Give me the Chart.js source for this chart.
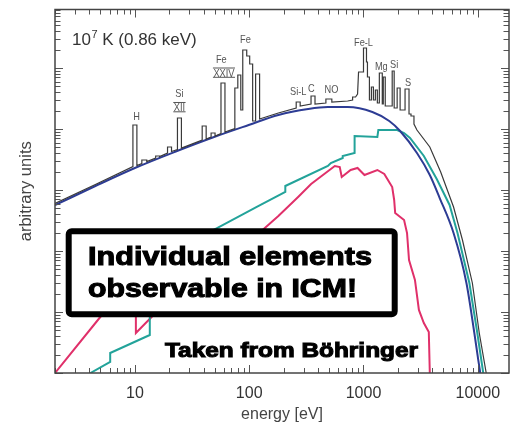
<!DOCTYPE html>
<html><head><meta charset="utf-8">
<script src="https://cdn.jsdelivr.net/npm/chart.js@4"></script>
<style>html,body{margin:0;padding:0;background:#fff;}canvas{display:block;}</style>
</head><body>
<canvas id="c" width="520" height="428"></canvas>
<script>
// ---- data (energy in eV, flux in arbitrary units) ----
const xTickLabels = ['10', '100', '1000', '10000'];
const xRange = [2, 18750];
const yRange = [1, 910000];

// total spectrum (continuum + emission lines), black
const totalE = [2.00,4.51,9.61,9.61,10.41,10.41,11.50,11.50,12.70,12.70,15.20,15.20,16.46,16.46,19.30,19.30,20.91,20.91,23.57,23.57,25.53,25.53,38.79,38.79,42.02,42.02,46.42,46.42,50.27,50.27,56.65,56.65,61.37,61.37,74.90,74.90,79.51,79.51,84.41,84.41,87.84,87.84,95.15,95.15,101.0,101.0,107.2,107.2,113.8,113.8,123.3,123.3,180.0,257.8,257.8,279.3,279.3,347.6,347.6,376.5,376.5,468.8,468.8,528.4,528.4,726.9,803.0,803.0,852.5,887.4,905.2,1000,1000,1062,1062,1083,1083,1127,1127,1173,1173,1221,1221,1270,1270,1322,1322,1376,1376,1460,1460,1490,1490,1550,1550,1783,1783,1855,1855,1970,1970,2091,2091,2310,2310,2502,2502,2604,2604,2764,2764,2935,3803,4735,6137,7341,8962,10300,11850];
const totalY = [601,1231,2428,11630,11630,2521,2718,3102,3102,2932,3346,3609,3609,3541,4042,5069,5069,4277,4611,15150,15150,4881,6603,11200,11200,6856,7393,8599,8599,7677,8437,56770,56770,8930,10190,47000,47000,76770,76770,20480,20480,197300,197300,157300,157300,116300,116300,13520,13520,79720,79720,14580,18290,22100,27700,27700,23820,25690,34750,34750,25690,26680,31020,31020,27700,28770,29880,33460,33460,37480,85990,85990,212800,212800,125400,125400,71200,71200,29880,29880,48810,48810,29880,29880,43580,43580,26680,26680,82790,82790,25690,25690,71200,71200,23820,23820,89300,89300,22100,22100,47000,47000,20480,20480,45250,45250,17620,17620,16330,16330,12080,9629,5069,1973,526,151.5,29.9,4.53,1];

// bremsstrahlung continuum, dark blue
const bremsE = [2.0,4.51,10,22.2,49.3,99,180,328,488,727,1196,1680,2091,2935,3803,4642,6137,7953,9327,10100,10510];
const bremsY = [565,1163,2295,4198,7393,11630,16960,21280,22950,22950,19000,13520,9273,4042,1762,739,197,29.9,4.53,1.63,1];

// recombination continuum, teal
const recombE = [4.08,6.08,6.08,13.5,13.5,52.3,121,207,207,488,518,658,658,836,836,1322,1349,1970,2265,2552,3373,4372,5665,6646,8441,9902,11160];
const recombY = [1,1.52,2.13,4.20,66.0,238,547,927,1163,2474,2771,3346,3609,4042,7677,7393,9629,9629,8590,7120,3609,1515,568,197,29.9,4.53,1];

// two-photon continuum, red
const twoPhotonE = [2.0,4.98,10.2,10.2,14.0,134,180,268,348,561,620,645,772,887,1020,1322,1520,1783,1855,1893,2265,2404,2502,2819,3053,3373,3727,3803];
const twoPhotonY = [1,8.28,42.0,4.53,8.28,230,375,768,1254,2474,2382,1633,2128,2295,1762,2128,1829,1120,686,420,322,197,71.2,33.5,10.8,6.60,4.70,1];

// emission line labels: text, energy, value at label baseline
const lineLabelText = ['H','Si','Fe','Fe','Si-L','C','NO','Fe-L','Mg','Si','S'];
const lineLabelE    = [10.34,24.53,57.0,92.7,268.3,349.7,525.2,1000,1432,1855,2453];
const lineLabelY    = [14050,33840,119400,254000,36090,40880,39370,232100,92730,100000,50690];
const ionText = ['XII','XXIV'];
const ionE    = [24.53,60.15];
const ionY    = [19730,72550];

const pts = (E, Y) => E.map((e, i) => ({x: e, y: Y[i]}));

const FONT = '"Liberation Sans", Arial, sans-serif';

function fitBold(ctx, text, x, base, width, size) {
  ctx.font = `bold ${size}px ${FONT}`;
  const w = ctx.measureText(text).width;
  ctx.save();
  ctx.translate(x, base);
  ctx.scale(width / w, 1);
  ctx.fillStyle = '#000'; ctx.strokeStyle = '#000';
  ctx.lineWidth = 1.1; ctx.lineJoin = 'miter';
  ctx.strokeText(text, 0, 0);
  ctx.fillText(text, 0, 0);
  ctx.restore();
}

function narrowText(ctx, text, cx, base) {
  ctx.save();
  ctx.translate(cx, base);
  ctx.scale(0.84, 1);
  ctx.fillText(text, 0, 0);
  ctx.restore();
  return ctx.measureText(text).width * 0.84;
}

const decor = {
  id: 'decor',
  afterDatasetsDraw(chart) {
    const {ctx, chartArea: a, scales: {x, y}} = chart;
    ctx.save();
    // inward ticks on all four sides
    ctx.strokeStyle = '#555'; ctx.lineWidth = 1;
    ctx.beginPath();
    for (let k = 0; k <= 5; k++) for (let m = 1; m <= 9; m++) {
      const v = m * Math.pow(10, k);
      if (v < x.min || v > x.max) continue;
      const p = Math.round(x.getPixelForValue(v)) + 0.5, L = m === 1 ? 8 : 5;
      ctx.moveTo(p, a.bottom); ctx.lineTo(p, a.bottom - L);
      ctx.moveTo(p, a.top); ctx.lineTo(p, a.top + L);
    }
    for (let k = 0; k <= 6; k++) for (let m = 1; m <= 9; m++) {
      const v = m * Math.pow(10, k);
      if (v < y.min || v > y.max) continue;
      const p = Math.round(y.getPixelForValue(v)) + 0.5, L = m === 1 ? 8 : 5.5;
      ctx.moveTo(a.left, p); ctx.lineTo(a.left + L, p);
      ctx.moveTo(a.right, p); ctx.lineTo(a.right - L, p);
    }
    ctx.stroke();
    // frame
    ctx.strokeStyle = '#444'; ctx.lineWidth = 1.5;
    ctx.strokeRect(a.left, a.top, a.right - a.left, a.bottom - a.top);

    // temperature label
    ctx.fillStyle = '#333'; ctx.textAlign = 'left'; ctx.textBaseline = 'alphabetic';
    ctx.font = `17px ${FONT}`;
    let tx = a.left + 17, ty = a.top + 35;
    ctx.fillText('10', tx, ty); tx += ctx.measureText('10').width + 0.5;
    ctx.font = `11px ${FONT}`;
    ctx.fillText('7', tx, ty - 7); tx += ctx.measureText('7').width;
    ctx.font = `17px ${FONT}`;
    ctx.fillText(' K (0.86 keV)', tx, ty);

    // emission line labels
    ctx.fillStyle = '#555'; ctx.strokeStyle = '#555'; ctx.textAlign = 'center';
    ctx.font = `11px ${FONT}`;
    lineLabelText.forEach((t, i) => {
      narrowText(ctx, t, x.getPixelForValue(lineLabelE[i]), y.getPixelForValue(lineLabelY[i]));
    });
    ionText.forEach((t, i) => {
      const cx = x.getPixelForValue(ionE[i]), by = y.getPixelForValue(ionY[i]);
      const w = narrowText(ctx, t, cx, by) + 1;
      ctx.lineWidth = 1;
      ctx.beginPath();
      ctx.moveTo(cx - w / 2, by - 8.5); ctx.lineTo(cx + w / 2, by - 8.5);
      ctx.moveTo(cx - w / 2, by + 0.8); ctx.lineTo(cx + w / 2, by + 0.8);
      ctx.stroke();
    });

    // annotation box
    ctx.fillStyle = '#fff'; ctx.strokeStyle = '#000'; ctx.lineWidth = 6; ctx.lineJoin = 'round';
    ctx.beginPath();
    ctx.roundRect(68.7, 231.3, 326, 83, 3);
    ctx.fill(); ctx.stroke();
    ctx.textAlign = 'left';
    fitBold(ctx, 'Individual elements', 88, 265, 284, 26.5);
    fitBold(ctx, 'observable in ICM!', 88, 297, 269, 26.5);
    fitBold(ctx, 'Taken from Böhringer', 165, 357, 253, 21);
    ctx.restore();
  }
};

new Chart(document.getElementById('c'), {
  type: 'scatter',
  data: {
    datasets: [
      {data: pts(totalE, totalY), showLine: true, borderColor: '#3a3a3a', borderWidth: 1.2, pointRadius: 0, tension: 0},
      {data: pts(bremsE, bremsY), showLine: true, borderColor: '#2d3c94', borderWidth: 2, pointRadius: 0, cubicInterpolationMode: 'monotone'},
      {data: pts(recombE, recombY), showLine: true, borderColor: '#23a39a', borderWidth: 2, pointRadius: 0, tension: 0},
      {data: pts(twoPhotonE, twoPhotonY), showLine: true, borderColor: '#e0306a', borderWidth: 2, pointRadius: 0, tension: 0}
    ]
  },
  options: {
    responsive: false, animation: false, devicePixelRatio: 1,
    layout: {padding: {left: 0, right: 7, top: 9.5, bottom: 0}},
    plugins: {legend: {display: false}, tooltip: {enabled: false}},
    scales: {
      x: {
        type: 'logarithmic', min: xRange[0], max: xRange[1],
        grid: {display: false, drawTicks: false}, border: {display: false},
        ticks: {autoSkip: false, maxRotation: 0, padding: 11, color: '#333',
                font: {family: FONT, size: 16},
                callback: (v) => xTickLabels.includes(String(v)) ? String(v) : ''},
        title: {display: true, text: 'energy [eV]', color: '#444',
                font: {family: FONT, size: 16}, padding: {top: 0, bottom: 4}},
        afterFit: (s) => { s.height = 55; }
      },
      y: {
        type: 'logarithmic', min: yRange[0], max: yRange[1],
        grid: {display: false, drawTicks: false}, border: {display: false},
        ticks: {display: false},
        title: {display: true, text: 'arbitrary units', color: '#444',
                font: {family: FONT, size: 16.5}, padding: {top: 17, bottom: 0}},
        afterFit: (s) => { s.width = 55; }
      }
    }
  },
  plugins: [decor]
});
</script>
</body></html>
